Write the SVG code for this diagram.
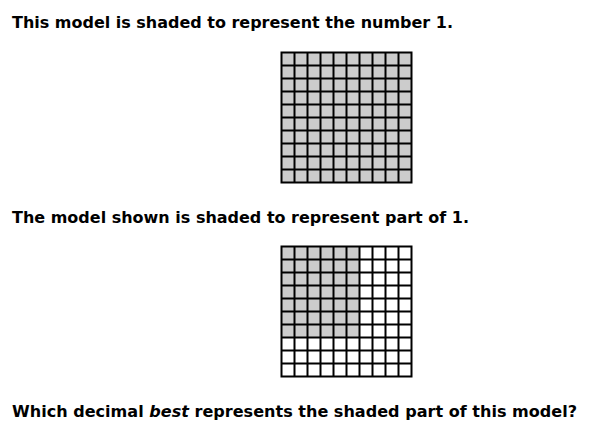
<svg xmlns="http://www.w3.org/2000/svg" xmlns:xlink="http://www.w3.org/1999/xlink" width="598" height="431" viewBox="0 0 598 431">
<style>
.t{font-family:"DejaVu Sans","Verdana",sans-serif;font-weight:bold;font-size:16.5px;fill:#000}
.g{fill:none;stroke:#000;stroke-width:2}
.s{fill:#cccccc;stroke:none}
</style>
<defs>
<path id="grid" class="g" d="M0,0H130V130H0Z M13,0V130 M26,0V130 M39,0V130 M52,0V130 M65,0V130 M78,0V130 M91,0V130 M104,0V130 M117,0V130 M0,13H130 M0,26H130 M0,39H130 M0,52H130 M0,65H130 M0,78H130 M0,91H130 M0,104H130 M0,117H130"/>
</defs>
<rect width="598" height="431" fill="#fff"/>
<g id="text1"><text class="t" x="12" y="28" textLength="441" lengthAdjust="spacingAndGlyphs">This model is shaded to represent the number 1.</text></g>
<g id="model1" transform="translate(281.5,52.5)">
<rect class="s" x="0" y="0" width="130" height="130"/>
<use xlink:href="#grid"/>
</g>
<g id="text2"><text class="t" x="12" y="223" textLength="457" lengthAdjust="spacingAndGlyphs">The model shown is shaded to represent part of 1.</text></g>
<g id="model2" transform="translate(281.5,246.5)">
<rect x="0" y="0" width="130" height="130" fill="#fff"/>
<rect class="s" x="0" y="0" width="78" height="91"/>
<use xlink:href="#grid"/>
</g>
<g id="text3"><text class="t" x="12" y="417" textLength="565" lengthAdjust="spacingAndGlyphs">Which decimal <tspan font-style="italic">best</tspan> represents the shaded part of this model?</text></g>
</svg>
